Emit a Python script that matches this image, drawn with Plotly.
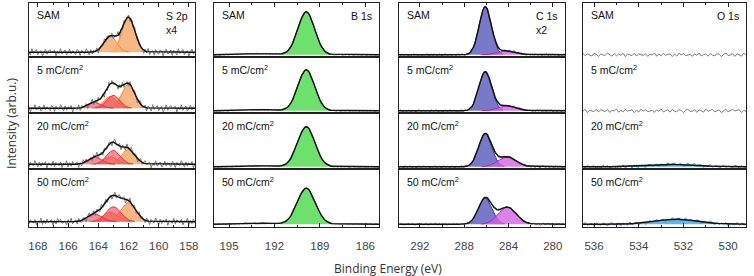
import numpy as np
import plotly.graph_objects as go

W, H = 754, 276

# ---------------- data ----------------
ROW_LABELS = ["SAM", "5 mC/cm<sup>2</sup>", "20 mC/cm<sup>2</sup>", "50 mC/cm<sup>2</sup>"]
PANEL_TITLES = ["S 2p<br>x4", "B 1s", "C 1s<br>x2", "O 1s"]

S2P_TICKS = [168, 166, 164, 162, 160, 158]
B1S_TICKS = [195, 192, 189, 186]
C1S_TICKS = [292, 288, 284, 280]
O1S_TICKS = [536, 534, 532, 530]

# S 2p fitted doublets (eV); intensities per row: SAM, 5, 20, 50 mC/cm2
S_THIOL_E = [162.0, 163.2]
S_THIOL_I = [[35, 24, 15, 19], [16, 12, 7.5, 9.5]]
S_NEW_E = [163.0, 164.2]
S_NEW_I = [[0, 13, 14, 15], [0, 6, 7, 7.5]]
S_FWHM = [1.0, 1.0, 1.05, 1.15]

# B 1s
B_MAIN_E = 189.9
B_MAIN_I = [43, 41, 40, 36]
B_FWHM = [1.3, 1.3, 1.35, 1.4]
B_SAT_E = 193.0
B_SAT_I = [1.2, 1.2, 1.0, 1.0]
B_SAT_FWHM = 2.5

# C 1s
C_MAIN_E = 286.1
C_MAIN_I = [48, 39, 33, 26]
C_MAIN_FWHM = [1.3, 1.35, 1.4, 1.45]
C_SEC_E = 284.1
C_SEC_I = [4, 5, 10, 17]
C_SEC_FWHM = [1.9, 1.9, 1.9, 1.9]

# O 1s
O_E = 532.3
O_I = [0, 0, 2.5, 5]
O_FWHM = 2.2

# measured-minus-fit residual shape (normalised), read as typical scatter
NOISE = [0.3, -0.5, 0.8, -0.2, -0.9, 0.4, 0.1, -0.6, 0.7, 0.2, -0.3, 0.9, -0.7, 0.0, 0.5,
         -0.8, 0.6, -0.1, -0.4, 0.8, 0.3, -0.9, 0.2, 0.6, -0.5, -0.2, 0.7, -0.7, 0.4, 0.1,
         -0.6, 0.9, -0.3, 0.5, -0.8, 0.2, 0.0, -0.4, 0.6, -0.1, 0.8, -0.6, 0.3, -0.9, 0.5,
         0.1, -0.2, 0.7, -0.5, 0.4, -0.7, 0.9, -0.1, 0.2, -0.8, 0.6, -0.3, 0.0, 0.5, -0.6,
         0.8, -0.4, 0.1, 0.3, -0.9, 0.7, -0.2, 0.4, -0.5, 0.6, -0.7, 0.2, 0.9, -0.3, -0.1,
         0.5, -0.8, 0.3, 0.7, -0.6, 0.0, 0.4, -0.4, 0.8, -0.2, -0.7, 0.6, 0.1, -0.5, 0.9,
         -0.3, 0.2, -0.9, 0.5, 0.3, -0.1, 0.7]

# ---------------- layout geometry ----------------
PANEL_PX = [(29, 196), (215, 381), (401, 568), (586, 750)]
ROW_PX = [2.7, 57.3, 113.3, 169.3, 226.7]
X_RANGES = [[168.6, 157.6], [196.0, 185.1], [293.9, 278.9], [536.5, 529.2]]
STEP = [0.1, 0.1, 0.14, 0.1]
BASE = [5, 2.5, 2.5, 2.5]
NOISE_AMP = [4.0, 0.6, 1.3, 2.0]
MINOR = [(1, 158), (1.5, 186), (2, 280), (1, 530)]
TICKS = [S2P_TICKS, B1S_TICKS, C1S_TICKS, O1S_TICKS]

FONT = "Arial, Liberation Sans, sans-serif"


def gauss(x, c, h, w):
    return h * np.exp(-4 * np.log(2) * ((x - c) / w) ** 2)


def components(p, r, x):
    """returns list of (y, fillcolor, linecolor, filled)"""
    out = []
    if p == 0:
        for e, i in zip(S_THIOL_E, S_THIOL_I):
            out.append((gauss(x, e, i[r], S_FWHM[r]), "rgba(246,172,112,0.85)", "#F08A2C", True))
        for e, i in zip(S_NEW_E, S_NEW_I):
            if i[r] > 0:
                out.append((gauss(x, e, i[r], S_FWHM[r]), "rgba(238,72,92,0.62)", "#E83040", True))
    elif p == 1:
        out.append((gauss(x, B_MAIN_E, B_MAIN_I[r], B_FWHM[r]), "#6EE06E", "#1FAF1F", True))
        out.append((gauss(x, B_SAT_E, B_SAT_I[r], B_SAT_FWHM), None, None, False))
    elif p == 2:
        out.append((gauss(x, C_MAIN_E, C_MAIN_I[r], C_MAIN_FWHM[r]), "rgba(110,110,196,0.92)", "#3434A6", True))
        out.append((gauss(x, C_SEC_E, C_SEC_I[r], C_SEC_FWHM[r]), "rgba(212,96,226,0.78)", "#B41CC4", True))
    else:
        if O_I[r] > 0:
            out.append((gauss(x, O_E, O_I[r], O_FWHM), "rgba(72,180,240,0.9)", "#1E78D0", True))
    return out


fig = go.Figure()
layout = {}

for p in range(4):
    x0, x1 = sorted(X_RANGES[p])
    x = np.arange(x0, x1 + STEP[p] / 2, STEP[p])
    for r in range(4):
        k = p * 4 + r + 1
        xa = "x" if k == 1 else f"x{k}"
        ya = "y" if k == 1 else f"y{k}"
        comps = components(p, r, x)
        env = np.zeros_like(x)
        for yv, fc, lc, filled in comps:
            env = env + yv
        # filled components
        for yv, fc, lc, filled in comps:
            if not filled:
                continue
            m = yv > 0.012 * yv.max()
            fig.add_trace(go.Scatter(x=x[m], y=yv[m], mode="lines", fill="tozeroy",
                                     fillcolor=fc, line=dict(color=lc, width=1),
                                     xaxis=xa, yaxis=ya, hoverinfo="skip"))
        # measured data (grey)
        nz = np.resize(np.roll(np.array(NOISE), 17 * r + 29 * p), x.size)
        data = env + NOISE_AMP[p] * nz
        fig.add_trace(go.Scatter(x=x, y=data, mode="lines",
                                 line=dict(color="#7a7a7a", width=1),
                                 xaxis=xa, yaxis=ya, hoverinfo="skip"))
        if comps:
            fig.add_trace(go.Scatter(x=x, y=env, mode="lines",
                                     line=dict(color="#111111", width=1.4),
                                     xaxis=xa, yaxis=ya, hoverinfo="skip"))

        # axes
        xl, xr = PANEL_PX[p]
        yt, yb = ROW_PX[r], ROW_PX[r + 1]
        xdom = [xl / W, xr / W]
        ydom = [1 - yb / H, 1 - yt / H]
        xax = dict(domain=xdom, range=X_RANGES[p], anchor=ya,
                   showgrid=False, zeroline=False, showline=True, linecolor="#222",
                   linewidth=1, mirror=True, ticks="", showticklabels=False,
                   tickvals=TICKS[p], fixedrange=True)
        if r == 0:
            xax.update(side="top", ticks="inside", ticklen=4, tickcolor="#222",
                       minor=dict(ticks="inside", ticklen=2, tickcolor="#222",
                                  tickmode="linear", dtick=MINOR[p][0], tick0=MINOR[p][1]))
        if r == 3:
            xax.update(side="bottom", ticks="inside", ticklen=4, tickcolor="#222",
                       showticklabels=True, ticklabelstandoff=8,
                       tickfont=dict(family=FONT, size=11.5, color="#444"),
                       minor=dict(ticks="inside", ticklen=2, tickcolor="#222",
                                  tickmode="linear", dtick=MINOR[p][0], tick0=MINOR[p][1]))
        if p == 3:
            if r == 0:
                xax.update(mirror=False)
            elif r == 1:
                xax.update(showline=False)
            elif r == 2:
                xax.update(side="bottom", mirror=False)
        yax = dict(domain=ydom, range=[-BASE[p], (yb - yt) - BASE[p]], anchor=xa,
                   showgrid=False, zeroline=False, showline=True, linecolor="#222",
                   linewidth=1, mirror=True, ticks="", showticklabels=False, fixedrange=True)
        layout["xaxis" if k == 1 else f"xaxis{k}"] = xax
        layout["yaxis" if k == 1 else f"yaxis{k}"] = yax

annotations = []
for p in range(4):
    xl, xr = PANEL_PX[p]
    for r in range(4):
        yt = ROW_PX[r]
        annotations.append(dict(x=(xl + 6) / W, y=1 - (yt + 12) / H, xref="paper", yref="paper",
                                text=ROW_LABELS[r], showarrow=False, xanchor="left",
                                yanchor="middle", font=dict(family=FONT, size=10.5, color="#111")))
    annotations.append(dict(x=(xr - 5) / W, y=1 - (ROW_PX[0] + 5) / H, xref="paper", yref="paper",
                            text=PANEL_TITLES[p], showarrow=False, xanchor="right", yanchor="top",
                            align="left", font=dict(family=FONT, size=10.5, color="#111")))

annotations.append(dict(x=390 / W, y=1 - 268 / H, xref="paper", yref="paper",
                        text="Binding Energy (eV)", showarrow=False, xanchor="center",
                        yanchor="middle", font=dict(family="Open Sans, sans-serif", size=12, color="#333")))
annotations.append(dict(x=11 / W, y=1 - 123 / H, xref="paper", yref="paper",
                        text="Intensity (arb.u.)", showarrow=False, textangle=-90,
                        xanchor="center", yanchor="middle",
                        font=dict(family="Open Sans, sans-serif", size=12, color="#333")))

fig.update_layout(width=W, height=H, margin=dict(l=0, r=0, t=0, b=0),
                  paper_bgcolor="white", plot_bgcolor="white", showlegend=False,
                  annotations=annotations, **layout)

fig.write_html("out.html")
